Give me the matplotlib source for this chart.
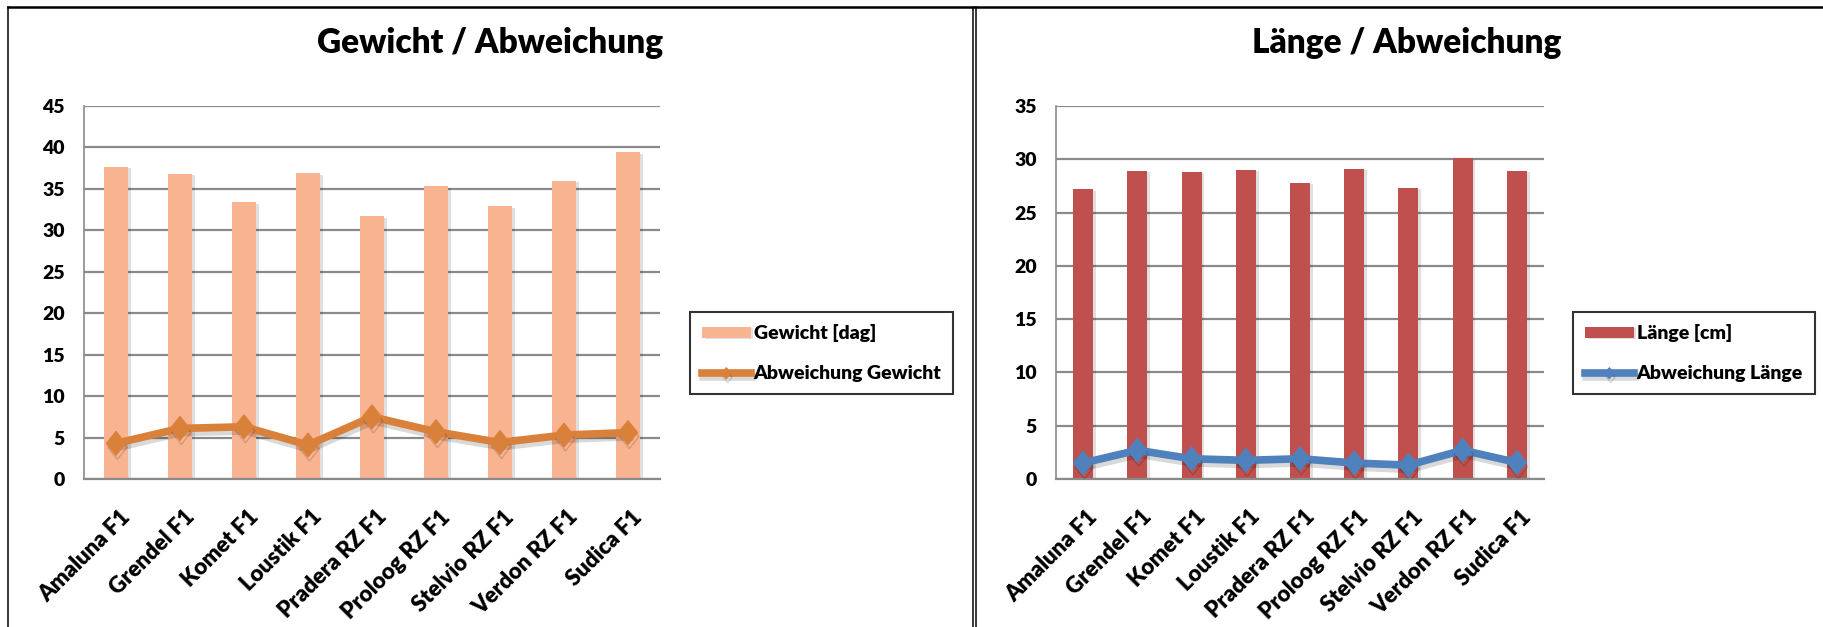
import numpy as np
import matplotlib
matplotlib.use("Agg")
import matplotlib.pyplot as plt
import matplotlib.patheffects as pe
from matplotlib.lines import Line2D
from matplotlib.path import Path
from matplotlib.transforms import ScaledTranslation

plt.rcParams["font.family"] = ["Lato", "DejaVu Sans"]
plt.rcParams["font.weight"] = "bold"

# data
sorten = ["Amaluna F1", "Grendel F1", "Komet F1", "Loustik F1", "Pradera RZ F1",
          "Proloog RZ F1", "Stelvio RZ F1", "Verdon RZ F1", "Sudica F1"]
gewicht = [37.7, 36.8, 33.4, 36.9, 31.7, 35.3, 32.9, 36.0, 39.4]
abw_gewicht = [4.3, 6.1, 6.3, 4.1, 7.5, 5.7, 4.4, 5.3, 5.6]
laenge = [27.2, 28.9, 28.8, 29.0, 27.8, 29.1, 27.3, 30.1, 28.9]
abw_laenge = [1.5, 2.7, 1.9, 1.75, 1.9, 1.5, 1.3, 2.7, 1.55]

# Excel-like diamond (a bit taller than wide)
diamond = Path([(0, 1.25), (1, 0), (0, -1.25), (-1, 0), (0, 1.25)],
               [Path.MOVETO, Path.LINETO, Path.LINETO, Path.LINETO, Path.CLOSEPOLY])

W, H = 1823, 627
fig = plt.figure(figsize=(W / 100, H / 100), dpi=100)


def panel(rect, title, title_x, values, dev, ymax, bar_col, line_col,
          bar_label, line_label, legend_x):
    ax = fig.add_axes(rect)
    x = np.arange(len(sorten))
    bars = ax.bar(x, values, width=0.37, color=bar_col, zorder=2,
                  label=bar_label)
    for b in bars:
        b.set_path_effects([pe.SimplePatchShadow(offset=(2, -1), alpha=0.12,
                                                 shadow_rgbFace="k"),
                            pe.Normal()])
    line, = ax.plot(x, dev, color=line_col, lw=5.5, marker=diamond, ms=17,
                    zorder=3, label=line_label, solid_joinstyle="miter",
                    path_effects=[pe.SimpleLineShadow(offset=(1, -3), alpha=0.15),
                                  pe.Normal()])
    ax.set_xlim(-0.5, len(sorten) - 0.5)
    ax.set_ylim(0, ymax)
    ax.set_yticks(np.arange(0, ymax + 1, 5))
    ax.yaxis.grid(True, color="#8a8a8a", lw=1.6, zorder=0)
    ax.set_axisbelow(True)
    for s in ["top", "right"]:
        ax.spines[s].set_visible(False)
    ax.spines["left"].set_color("#8a8a8a")
    ax.spines["left"].set_linewidth(1.2)
    ax.spines["bottom"].set_color("#8a8a8a")
    ax.spines["bottom"].set_linewidth(1.6)
    ax.tick_params(axis="y", length=0, pad=14, labelsize=14)
    ax.tick_params(axis="x", length=0, pad=25, labelsize=16)
    ax.set_xticks(x)
    ax.set_xticklabels(sorten, rotation=45, ha="right", va="center",
                       rotation_mode="anchor")
    off = ScaledTranslation(0.11, 0, fig.dpi_scale_trans)
    for lab in ax.get_xticklabels():
        lab.set_transform(lab.get_transform() + off)
    for lab in ax.get_yticklabels() + ax.get_xticklabels():
        lab.set_fontweight("heavy")

    fig.text(title_x / W, 1 - 53 / H, title, ha="center", va="baseline",
             fontsize=24, fontweight="heavy")

    leg = ax.legend([bars, line], [bar_label, line_label],
                    loc="upper left", bbox_to_anchor=(legend_x / W, 1 - 312 / H),
                    bbox_transform=fig.transFigure, frameon=True, fancybox=False,
                    prop={"size": 14, "weight": "heavy"}, handlelength=2.5,
                    handleheight=0.5, handletextpad=0.15, labelspacing=1.2,
                    borderpad=0.62, borderaxespad=0, numpoints=1,
                    markerscale=0.45)
    leg.get_frame().set_edgecolor("black")
    leg.get_frame().set_linewidth(1.5)
    return ax


panel([84 / W, 1 - 479 / H, 576 / W, 373 / H], "Gewicht / Abweichung", 490,
      gewicht, abw_gewicht, 45, "#F8B490", "#D9803A",
      "Gewicht [dag]", "Abweichung Gewicht", 690)
panel([1056 / W, 1 - 479 / H, 488 / W, 373 / H], "Länge / Abweichung", 1407,
      laenge, abw_laenge, 35, "#C0504D", "#4F81BD",
      "Länge [cm]", "Abweichung Länge", 1573)

# panel frames
fig.add_artist(Line2D([8 / W, 1], [1 - 7 / H, 1 - 7 / H], color="black", lw=1.8))
fig.add_artist(Line2D([8 / W, 8 / W], [0, 1 - 7 / H], color="black", lw=1.1))
fig.add_artist(Line2D([973 / W, 973 / W], [0, 1 - 7 / H], color="black", lw=1.1))
fig.add_artist(Line2D([976.5 / W, 976.5 / W], [0, 1 - 7 / H], color="black", lw=1.1))

fig.savefig("out.png", dpi=100)
